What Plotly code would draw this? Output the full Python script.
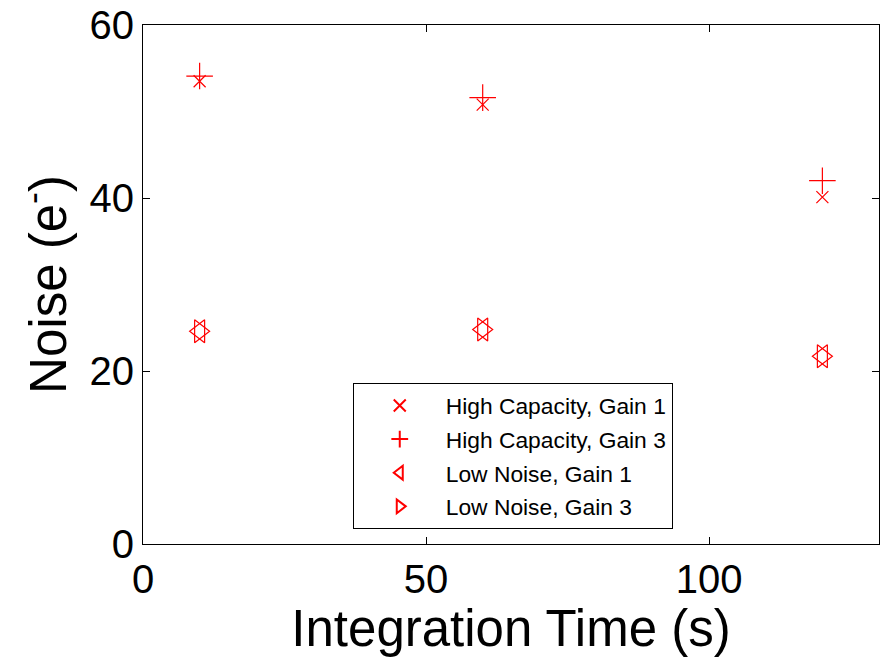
import plotly.graph_objects as go

time_s = [10, 60, 120]
hc_gain1 = [53.5, 50.8, 40.1]
hc_gain3 = [54.1, 51.6, 42.0]
ln_gain1 = [24.6, 24.8, 21.7]
ln_gain3 = [24.6, 24.8, 21.7]

names = ["High Capacity, Gain 1", "High Capacity, Gain 3", "Low Noise, Gain 1", "Low Noise, Gain 3"]
series = [hc_gain1, hc_gain3, ln_gain1, ln_gain3]
symbols = ["x-thin", "cross-thin", "triangle-left-open", "triangle-right-open"]
sizes = [12, 19, 20, 20]

font = "Liberation Sans, Arial, sans-serif"
fig = go.Figure()
for i, (n, s, sym, sz) in enumerate(zip(names, series, symbols, sizes)):
    fig.add_trace(go.Scatter(
        x=time_s, y=s, mode="markers", name=n, legendgroup=f"g{i}",
        marker=dict(symbol=sym, size=sz, color="red", line=dict(color="red", width=1.2)),
    ))

axis_common = dict(
    showline=True, linecolor="black", linewidth=1, mirror="ticks",
    ticks="inside", ticklen=7, tickcolor="black", showgrid=False, zeroline=False,
    tickfont=dict(family=font, size=40, color="black"),
)
fig.update_layout(
    width=882, height=657, margin=dict(l=143, r=3, t=25, b=113, autoexpand=False),
    paper_bgcolor="white", plot_bgcolor="white",
    font=dict(family=font, color="black"),
    xaxis=dict(range=[0, 130], tickvals=[0, 50, 100],
               title=dict(text="Integration Time (s)", font=dict(size=51), standoff=0),
               **axis_common),
    yaxis=dict(range=[0, 60], tickvals=[0, 20, 40, 60],
               title=dict(text="Noise (e<sup>-</sup>)", font=dict(size=51), standoff=6),
               **axis_common),
    legend=dict(x=0.285, y=0.31, xanchor="left", yanchor="top",
                bordercolor="black", borderwidth=1, bgcolor="white",
                font=dict(family=font, size=22.8, color="black"),
                tracegroupgap=1, itemwidth=82, itemsizing="constant"),
    showlegend=True,
)
fig.write_html("out.html")
